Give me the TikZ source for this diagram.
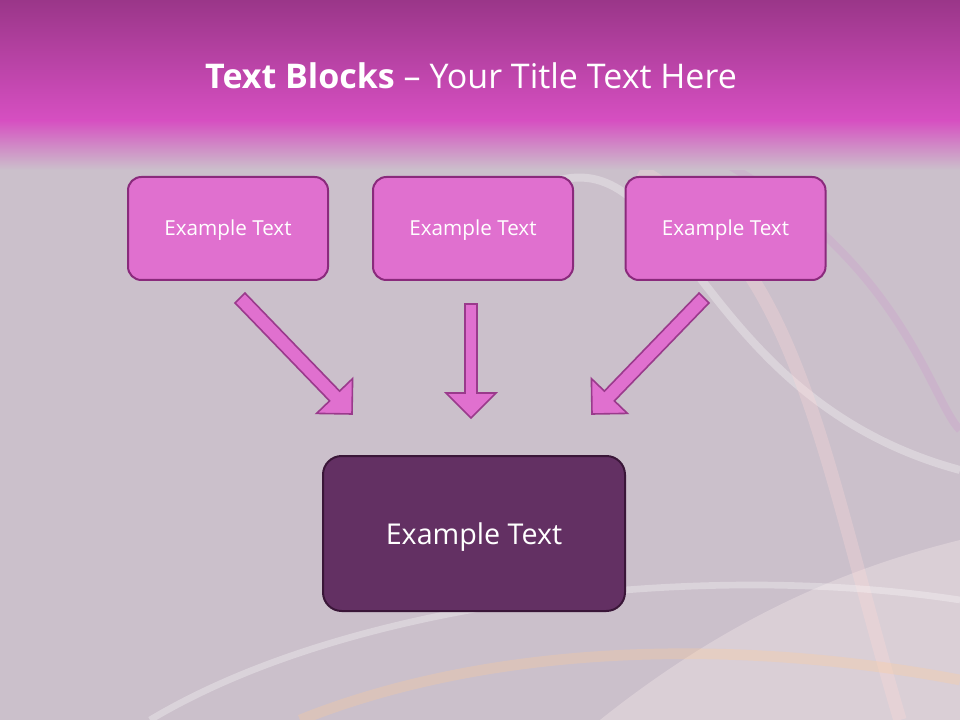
\documentclass[tikz,border=0pt]{standalone}
\usepackage{fontspec}
\setmainfont{Open Sans}
\begin{document}
\begin{tikzpicture}[x=0.75pt,y=-0.75pt,
  topbox/.style={draw=topborder,line width=1.5pt,fill=topfill,rounded corners=10pt,text=white,font=\fontsize{15.5}{18}\selectfont,minimum width=200*0.75pt,minimum height=103*0.75pt,inner sep=0pt},
  mainbox/.style={draw=mainborder,line width=1.5pt,fill=mainfill,rounded corners=14pt,text=white,font=\fontsize{21.5}{24}\selectfont,minimum width=302*0.75pt,minimum height=155*0.75pt,inner sep=0pt},
  blockarrow/.style={draw=arrowborder,line width=1.2pt,fill=topfill}]
\definecolor{bgcol}{HTML}{CBC0CB}
\definecolor{bandtop}{HTML}{9A3689}
\definecolor{bandbot}{HTML}{D64FC1}
\definecolor{topfill}{HTML}{E070CF}
\definecolor{topborder}{HTML}{8A2A7C}
\definecolor{mainfill}{HTML}{633063}
\definecolor{mainborder}{HTML}{3A1638}
\definecolor{arrowborder}{HTML}{9A3A8C}
\useasboundingbox (0,0) rectangle (960,720);
\fill[bgcol] (0,0) rectangle (960,720);
% swirls
\begin{scope}[opacity=0.3]
\fill[white!80!pink] (600,720) .. controls (750,600) and (880,560) .. (960,540) -- (960,720) -- cycle;
\draw[white,line width=6pt] (560,180) .. controls (680,150) and (700,400) .. (960,470);
\draw[pink!60!white,line width=10pt] (640,170) .. controls (800,260) and (820,450) .. (900,720);
\draw[white,line width=5pt] (150,720) .. controls (350,600) and (700,560) .. (960,600);
\draw[orange!40!white,line width=8pt] (300,720) .. controls (500,640) and (750,640) .. (960,680);
\draw[violet!40!white,line width=6pt] (700,150) .. controls (900,250) and (930,400) .. (960,430);
\end{scope}
% title band
\shade[top color=bandtop,bottom color=bandbot] (0,0) rectangle (960,120);
\shade[top color=bandbot,bottom color=bgcol] (0,120) rectangle (960,170);
\node (title) [text=white,font=\fontsize{25.5}{30}\selectfont] at (471,76) {\textbf{Text Blocks} -- Your Title Text Here};
\node[topbox] (b1) at (228,228.5) {\raisebox{-1.5pt}[\height][\depth]{Example Text}};
\node[topbox] (b2) at (473,228.5) {\raisebox{-1.5pt}[\height][\depth]{Example Text}};
\node[topbox] (b3) at (725.5,228.5) {\raisebox{-1.5pt}[\height][\depth]{Example Text}};
\node[mainbox] (m) at (474,533.5) {\raisebox{-3pt}[\height][\depth]{Example Text}};
\draw[blockarrow] (245.0,293.1) -- (339.6,391.1) -- (352.6,378.6) -- (352,414) -- (316.6,413.4) -- (329.6,400.9) -- (235.0,302.9) -- cycle;
\draw[blockarrow] (465,304) -- (465,393) -- (446,393) -- (471,418) -- (496,393) -- (477,393) -- (477,304) -- cycle;
\draw[blockarrow] (699,293.1) -- (604.4,391.1) -- (591.4,378.6) -- (592,414) -- (627.4,413.4) -- (614.4,400.9) -- (709,302.9) -- cycle;
\end{tikzpicture}
\end{document}
